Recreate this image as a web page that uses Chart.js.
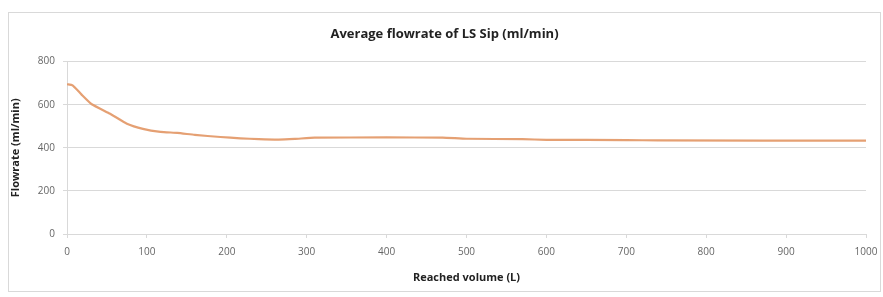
<!DOCTYPE html>
<html>
<head>
<meta charset="utf-8">
<script src="https://cdn.jsdelivr.net/npm/chart.js@4/dist/chart.umd.min.js"></script>
<style>
  html, body { margin: 0; padding: 0; background: #fff; }
  #box {
    position: absolute; left: 8px; top: 12px;
    width: 871px; height: 278px;
    border: 1px solid #d9d9d9;
  }
</style>
</head>
<body>
<div id="box"><canvas id="myChart"></canvas></div>
<script>
const volumes = [0, 7, 18, 31, 54, 75, 95, 117, 138, 160, 192, 217, 240, 265, 285, 310, 400, 470, 500, 570, 600, 700, 740, 1000];
const flowrates = [695, 690, 648, 602, 558, 512, 488, 474, 469, 460, 450, 444, 440, 438, 441, 447, 448, 447, 442, 440, 437, 436, 434, 433];

const xTicks = [0, 100, 200, 300, 400, 500, 600, 700, 800, 900, 1000];
const yTicks = [0, 200, 400, 600, 800];

const points = volumes.map((v, i) => ({ x: v, y: flowrates[i] }));

const ctx = document.getElementById('myChart').getContext('2d');

const config = {
    type: 'line',
    data: {
        datasets: [{
            label: 'Average flowrate',
            data: points,
            borderColor: 'rgba(226, 150, 100, 0.9)',
            borderWidth: 2.2,
            pointRadius: 0,
            tension: 0.15,
            fill: false
        }]
    },
    options: {
        responsive: true,
        maintainAspectRatio: false,
        animation: false,
        layout: { padding: { left: 0, right: 0, top: 0, bottom: 4 } },
        plugins: {
            legend: { display: false },
            tooltip: { enabled: false },
            title: {
                display: true,
                text: 'Average flowrate of LS Sip (ml/min)',
                color: '#222',
                font: { family: 'Open Sans', size: 13, weight: 'bold' },
                padding: { top: 13, bottom: 20 }
            }
        },
        scales: {
            x: {
                type: 'linear',
                min: 0,
                max: 1000,
                afterBuildTicks: (scale) => { scale.ticks = xTicks.map(v => ({ value: v })); },
                afterFit: (scale) => { scale.height = 53; scale.paddingRight = 14; },
                ticks: {
                    color: '#666',
                    font: { family: 'Open Sans', size: 10 },
                    padding: 8,
                    maxRotation: 0,
                    callback: (v) => String(v)
                },
                grid: { drawOnChartArea: false, drawTicks: true, tickLength: 4, color: '#d9d9d9' },
                border: { color: '#d9d9d9' },
                title: {
                    display: true,
                    text: 'Reached volume (L)',
                    color: '#222',
                    font: { family: 'Open Sans', size: 11, weight: 'bold' },
                    padding: { top: 4, bottom: 3 }
                }
            },
            y: {
                min: 0,
                max: 800,
                afterBuildTicks: (scale) => { scale.ticks = yTicks.map(v => ({ value: v })); },
                afterFit: (scale) => { scale.width = 58; },
                ticks: {
                    color: '#666',
                    font: { family: 'Open Sans', size: 10 },
                    padding: 8,
                    callback: (v) => String(v)
                },
                grid: { color: '#d9d9d9', tickLength: 4 },
                border: { color: '#d9d9d9' },
                title: {
                    display: true,
                    text: 'Flowrate (ml/min)',
                    color: '#222',
                    font: { family: 'Open Sans', size: 11, weight: 'bold' },
                    padding: { top: 0, bottom: 4 }
                }
            }
        }
    }
};

const myChart = new Chart(ctx, config);
</script>
</body>
</html>
